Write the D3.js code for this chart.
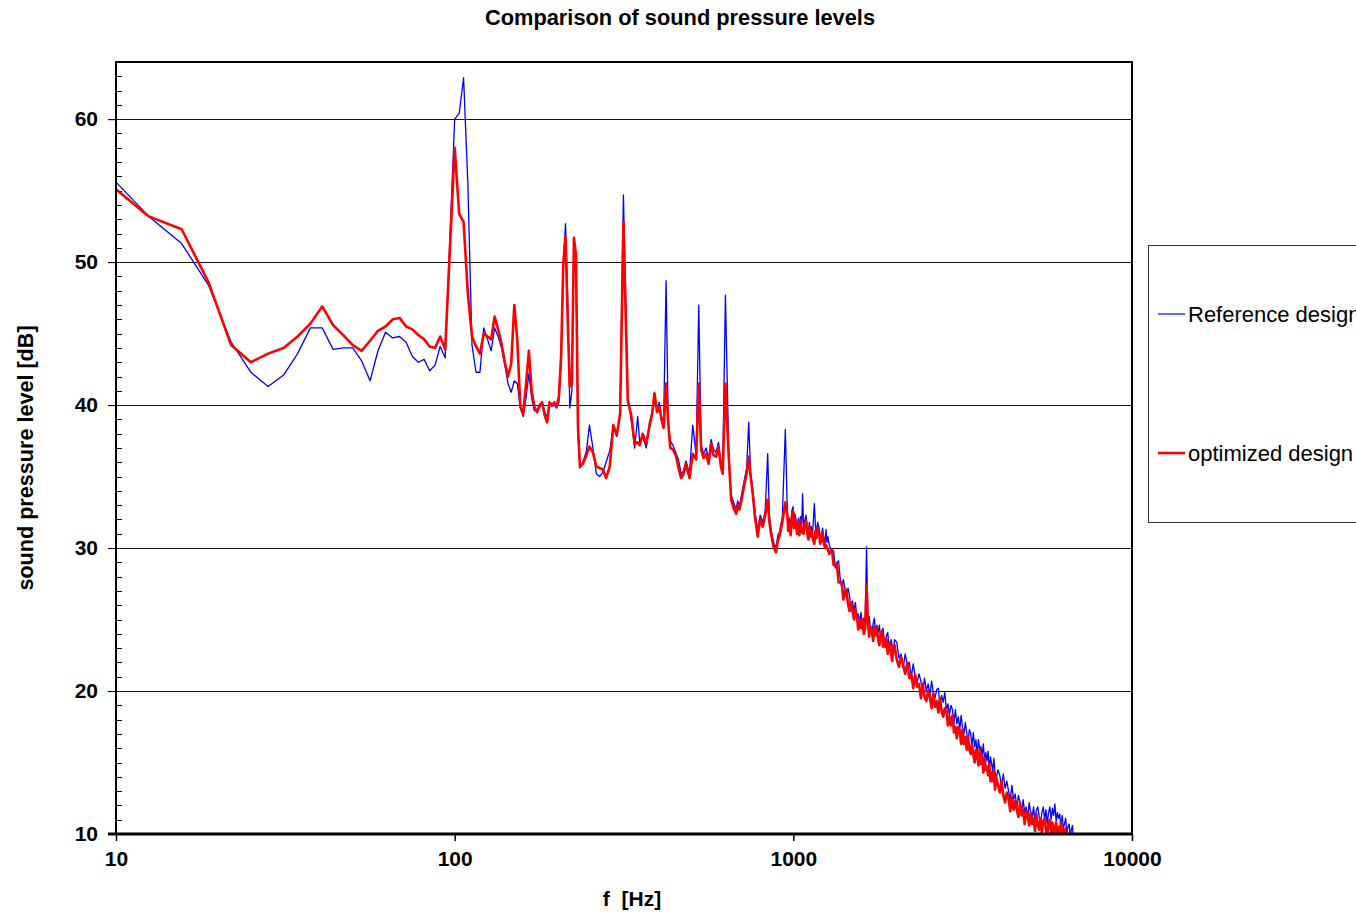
<!DOCTYPE html>
<html>
<head>
<meta charset="utf-8">
<title>Comparison of sound pressure levels</title>
<script src="https://cdn.jsdelivr.net/npm/d3@7"></script>
<style>
  body { margin: 0; background: #fff; }
  svg text { font-family: "Liberation Sans", Arial, sans-serif; fill: #000; }
</style>
</head>
<body>
<div id="chart"></div>
<script>
// frequency grid [Hz]
const freqHz = [
  10, 12.5, 15.625, 18.75, 21.875, 25, 28.125, 31.25, 34.375, 37.5,
  40.625, 43.75, 46.875, 50, 53.125, 56.25, 59.375, 62.5, 65.625, 68.75,
  71.875, 75, 78.125, 81.25, 84.375, 87.5, 90.625, 93.75, 100, 103.125,
  106.25, 109.375, 112.5, 115.625, 118.75, 121.875, 125, 128.125, 131.25, 134.375,
  137.5, 140.625, 143.75, 146.875, 150, 153.125, 156.25, 159.375, 162.5, 165.625,
  168.75, 171.875, 175, 178.125, 181.25, 184.375, 187.5, 190.625, 193.75, 196.875,
  200, 203.125, 206.25, 209.375, 212.5, 215.625, 218.75, 221.875, 225, 228.125,
  231.25, 234.375, 239, 245, 250, 256, 262, 268, 274, 280,
  287, 294, 301, 308, 315, 324.5, 332, 340, 347, 352,
  359, 368, 376, 383, 389, 396, 402, 408, 414, 421,
  427, 433, 441, 451, 458, 466, 474, 482, 493.5, 504.7,
  516.4, 525.7, 534.3, 543, 552.7, 562, 571.8, 581, 591.6, 601,
  612, 618.7, 630.2, 644.5, 655.1, 666, 677.8, 685, 693.2, 705,
  717.2, 728, 738.4, 748, 758.7, 771, 784.9, 798, 812, 826,
  840, 850, 859.6, 874, 889.3, 900, 909.4, 928, 947.1, 960,
  966, 973.2, 982, 990, 998, 1005, 1010, 1018.5, 1026, 1035,
  1042, 1050, 1058, 1065.2, 1072, 1080, 1090, 1100, 1108, 1115,
  1122, 1130, 1140, 1153.5, 1162, 1170, 1180, 1193.4, 1200, 1210,
  1220, 1230, 1240, 1248.9, 1257, 1265, 1277.1,
  1300, 1315, 1330, 1345, 1360, 1375, 1390, 1405, 1420, 1435,
  1450, 1465, 1480, 1495, 1510, 1525, 1540, 1555, 1570, 1585,
  1600, 1615, 1630, 1645, 1660, 1675, 1690, 1705, 1720, 1735,
  1750, 1765, 1780, 1795, 1810, 1825, 1840, 1855, 1870, 1885,
  1900, 1915, 1930, 1945, 1960, 1975, 1990,
  2020, 2050, 2080, 2110, 2140, 2170, 2200, 2230, 2260, 2290,
  2320, 2350, 2380, 2410, 2440, 2470, 2500, 2530, 2560, 2590,
  2620, 2650, 2680, 2710, 2740, 2770, 2800, 2830, 2860, 2890,
  2920, 2950, 2980, 3010, 3040, 3070, 3100, 3130, 3160, 3190,
  3220, 3250, 3280, 3310, 3340, 3370, 3400, 3430, 3460, 3490,
  3520, 3550, 3580, 3610, 3640, 3670, 3700, 3730, 3760, 3790,
  3820, 3850, 3880, 3910, 3940, 3970,
  4020, 4070, 4120, 4170, 4220, 4270, 4320, 4370, 4420, 4470,
  4520, 4570, 4620, 4670, 4720, 4770, 4820, 4870, 4920, 4970,
  5020, 5070, 5120, 5170, 5220, 5270, 5320, 5370, 5420, 5470,
  5520, 5570, 5620, 5670, 5720, 5770, 5820, 5870, 5920, 5970,
  6020, 6070, 6120, 6170, 6220, 6270, 6320, 6370, 6420, 6470,
  6520, 6570, 6620, 6670, 6720
]

// Reference design [dB]
const refDb = [
  55.6, 53.2, 51.3, 48.4, 44.4, 42.3, 41.3, 42.1, 43.6, 45.4,
  45.4, 43.9, 44.0, 44.0, 43.1, 41.7, 43.8, 45.1, 44.7, 44.8,
  44.4, 43.4, 43.0, 43.2, 42.4, 42.8, 44.1, 43.3, 60.0, 60.4,
  62.9, 55.5, 44.2, 42.3, 42.3, 45.4, 44.6, 43.8, 45.4, 44.8,
  44.0, 42.8, 41.5, 40.9, 41.7, 41.5, 39.8, 39.2, 40.5, 42.2,
  40.5, 39.6, 39.7, 39.8, 40.2, 39.5, 39.2, 40.1, 39.9, 40.0,
  39.8, 40.2, 43.0, 50.0, 52.7, 47.5, 39.8, 41.0, 51.5, 50.0,
  38.0, 35.6, 36.0, 36.8, 38.6, 37.0, 35.2, 35.0, 35.3, 36.0,
  36.8, 38.5, 37.8, 39.6, 54.7, 40.6, 39.0, 37.0, 39.2, 37.4,
  37.8, 37.0, 38.8, 39.5, 40.9, 39.7, 40.2, 39.2, 38.8, 48.7,
  39.0, 37.5, 37.2, 36.6, 36.2, 35.2, 35.4, 36.1, 35.2, 38.6,
  36.5, 47.0, 37.2, 36.6, 37.0, 36.2, 37.6, 36.9, 36.7, 37.4,
  35.9, 35.5, 47.7, 36.6, 33.7, 33.2, 32.7, 33.3, 32.9, 33.9,
  34.8, 35.6, 38.8, 35.3, 34.1, 32.5, 31.2, 32.3, 31.8, 32.6,
  36.6, 32.2, 31.3, 30.4, 30.0, 30.9, 31.1, 32.2, 38.3, 32.6,
  31.6, 32.1, 31.3, 32.6, 32.9, 31.8, 32.4, 32.0, 31.3, 32.1,
  31.2, 32.2, 31.6, 33.8, 31.4, 31.9, 32.3, 31.4, 31.0, 31.8,
  31.2, 31.5, 31.0, 33.1, 31.6, 31.1, 31.8, 31.3, 30.6, 30.9,
  31.4, 30.7, 30.3, 31.3, 30.4, 30.8, 30.2,
  29.8, 29.8, 28.6, 29.0, 29.1, 27.9, 27.2, 27.8, 27.2, 26.5,
  27.2, 26.7, 25.6, 26.3, 25.6, 26.2, 25.1, 25.4, 24.8, 25.5,
  24.3, 25.1, 24.8, 30.1, 24.6, 25.2, 24.3, 24.0, 24.7, 25.1,
  24.0, 24.6, 24.1, 24.6, 23.6, 24.1, 24.4, 23.5, 23.1, 23.9,
  24.1, 23.2, 22.8, 23.6, 23.1, 22.7, 23.6,
  23.4, 22.3, 22.6, 21.6, 22.6, 21.8, 22.0, 21.0, 21.9, 21.0,
  20.6, 21.2, 20.7, 19.9, 20.9, 20.0, 20.5, 19.7, 20.7, 19.9,
  19.5, 20.1, 20.2, 19.0, 19.7, 19.2, 19.9, 18.7, 19.1, 18.3,
  19.0, 18.7, 17.7, 18.7, 17.7, 18.2, 17.3, 18.3, 17.4, 17.0,
  17.8, 17.1, 16.4, 17.3, 17.0, 16.1, 17.1, 16.1, 16.6, 15.6,
  16.6, 15.9, 16.1, 15.5, 16.3, 15.1, 15.7, 15.1, 15.8, 14.5,
  15.4, 14.9, 14.4, 15.3, 14.3, 13.9,
  14.5, 14.1, 13.3, 14.2, 13.2, 13.7, 13.0, 12.4, 13.4, 12.4,
  12.8, 11.8, 12.7, 12.2, 11.5, 12.4, 11.5, 11.9, 11.1, 12.2,
  11.5, 11.1, 11.9, 10.9, 11.7, 11.9, 11.2, 10.8, 11.5, 11.9,
  11.0, 11.7, 10.7, 11.5, 11.9, 11.0, 11.8, 11.3, 12.1, 10.9,
  11.5, 11.1, 11.4, 10.3, 11.3, 10.4, 10.7, 11.1, 10.0, 10.5,
  10.7, 9.9, 10.3, 10.6, 9.5
]

// optimized design [dB], null where the trace has ended
const optDb = [
  55.1, 53.2, 52.3, 48.6, 44.2, 43.0, 43.6, 44.0, 44.8, 45.7,
  46.9, 45.6, 44.9, 44.2, 43.8, 44.5, 45.2, 45.5, 46.0, 46.1,
  45.5, 45.3, 44.9, 44.6, 44.1, 44.0, 44.8, 43.9, 58.0, 53.4,
  52.8, 47.8, 44.8, 44.1, 43.6, 45.0, 44.8, 44.6, 46.2, 45.3,
  44.3, 43.0, 42.0, 42.9, 47.0, 44.5, 39.9, 39.4, 41.5, 43.8,
  41.0, 39.9, 39.5, 40.0, 40.2, 39.3, 38.8, 40.2, 40.0, 40.2,
  39.9, 40.6, 43.5, 50.0, 51.8, 46.0, 41.3, 41.5, 51.7, 50.5,
  38.5, 35.7, 35.9, 36.5, 37.1, 36.7, 35.7, 35.6, 35.5, 34.9,
  35.7, 38.6, 37.9, 39.4, 52.8, 40.3, 39.3, 37.3, 37.4, 37.2,
  38.0, 37.3, 38.5, 39.4, 40.8, 39.5, 39.9, 39.0, 38.4, 41.5,
  38.8, 37.0, 36.9, 36.4, 35.6, 34.9, 35.2, 35.9, 34.9, 36.6,
  36.2, 41.5, 36.9, 36.3, 36.6, 35.9, 37.3, 36.5, 36.4, 37.1,
  35.6, 35.2, 41.5, 36.4, 33.4, 32.8, 32.4, 33.0, 32.7, 33.5,
  34.5, 35.2, 36.4, 35.0, 33.8, 32.1, 30.8, 32.0, 31.5, 32.3,
  33.4, 31.8, 31.0, 30.1, 29.7, 30.5, 30.8, 31.8, 33.2, 32.3,
  31.2, 31.8, 30.9, 32.2, 32.6, 31.4, 32.1, 31.7, 31.0, 31.8,
  30.9, 31.9, 31.1, 31.4, 31.0, 31.6, 31.9, 31.0, 30.6, 31.5,
  30.8, 31.2, 30.7, 30.3, 31.2, 30.7, 31.4, 31.0, 30.3, 30.5,
  31.1, 30.4, 30.0, 30.2, 30.0, 29.9, 29.6,
  29.9, 28.8, 28.9, 28.9, 27.6, 27.6, 27.6, 26.4, 27.0, 27.1,
  26.1, 25.6, 26.2, 25.6, 25.0, 25.7, 25.3, 24.3, 25.0, 24.4,
  25.0, 24.0, 24.4, 27.5, 24.8, 23.8, 24.5, 24.3, 23.5, 24.5,
  23.9, 24.4, 23.6, 23.2, 23.9, 24.2, 23.1, 23.7, 23.1, 23.6,
  22.6, 23.1, 23.4, 22.5, 22.1, 23.0, 23.2,
  22.2, 21.7, 22.4, 21.8, 21.2, 22.0, 20.9, 21.2, 20.2, 21.1,
  20.3, 20.5, 19.5, 20.5, 19.6, 19.3, 20.0, 19.6, 18.8, 19.8,
  18.9, 19.3, 18.5, 19.5, 18.6, 18.2, 18.8, 18.8, 17.6, 18.2,
  17.6, 18.3, 17.1, 17.5, 16.7, 17.5, 17.2, 16.3, 17.3, 16.3,
  16.8, 15.9, 16.8, 15.9, 15.6, 16.3, 15.6, 15.0, 15.9, 15.6,
  14.8, 15.9, 14.9, 15.4, 14.3, 15.3, 14.5, 14.7, 14.1, 14.9,
  13.7, 14.3, 13.7, 14.4, 13.1, 14.0,
  13.4, 12.9, 13.7, 12.7, 12.2, 12.9, 12.5, 11.6, 12.6, 11.7,
  12.3, 11.7, 11.2, 12.2, 11.3, 11.7, 10.7, 11.6, 11.3, 10.6,
  11.5, 10.7, 11.1, 10.2, 11.4, 10.6, 10.3, 11.1, 10.1, 10.9,
  11.1, 10.3, 9.9, 10.7, 11.0, 10.1, 10.8, 9.8, 10.4, 10.8,
  9.9, 10.5, 10.0, 10.8, 9.6, 10.3, 10.0, 10.4, 9.4, 9.6,
  null, null, null, null, null
]

const xTickValues = [10, 100, 1000, 10000]
const yTickValues = [10, 20, 30, 40, 50, 60]
const seriesNames = ['Reference design', 'optimized design']
const seriesColors = ['#0000ff', '#ff0000']

const width = 1356, height = 912
const plot = {left: 116, right: 1132, top: 62, bottom: 834}

const svg = d3.select('#chart').append('svg')
  .attr('width', width)
  .attr('height', height)

const x = d3.scaleLog().domain([10, 10000]).range([plot.left, plot.right])
const y = d3.scaleLinear().domain([10, 64]).range([plot.bottom, plot.top])

// title
svg.append('text')
  .attr('x', 680)
  .attr('y', 25)
  .attr('text-anchor', 'middle')
  .style('font-size', '21.8px')
  .style('font-weight', 'bold')
  .text('Comparison of sound pressure levels')

// horizontal grid lines, they poke out left of the frame like ticks
svg.append('g')
  .attr('class', 'grid')
  .selectAll('line')
  .data(yTickValues.filter(d => d > 10))
  .enter().append('line')
  .attr('x1', plot.left - 8)
  .attr('x2', plot.right)
  .attr('y1', d => Math.round(y(d)) + 0.5)
  .attr('y2', d => Math.round(y(d)) + 0.5)
  .attr('stroke', '#111')
  .attr('stroke-width', 1)

// minor y ticks, every 1 dB, inside the frame
svg.append('g')
  .attr('class', 'minor')
  .selectAll('line')
  .data(d3.range(11, 64).filter(d => d % 10 !== 0))
  .enter().append('line')
  .attr('x1', plot.left)
  .attr('x2', plot.left + 6)
  .attr('y1', d => Math.round(y(d)) + 0.5)
  .attr('y2', d => Math.round(y(d)) + 0.5)
  .attr('stroke', '#000')

// y axis labels
const yAxis = svg.append('g')
  .attr('class', 'y-axis')
  .attr('transform', 'translate(' + plot.left + ',0)')
  .call(d3.axisLeft(y).tickValues(yTickValues).tickSize(8).tickPadding(10))
yAxis.select('.domain').remove()
yAxis.selectAll('text')
  .style('font-size', '21px')
  .style('font-weight', 'bold')
  .style('font-family', '"Liberation Sans", Arial, sans-serif')

// x axis labels
const xAxis = svg.append('g')
  .attr('class', 'x-axis')
  .attr('transform', 'translate(0,' + plot.bottom + ')')
  .call(d3.axisBottom(x).tickValues(xTickValues).tickFormat(d3.format('d')).tickSize(7).tickPadding(10))
xAxis.select('.domain').remove()
xAxis.selectAll('line').attr('stroke-width', 1.5)
xAxis.selectAll('text')
  .style('font-size', '21px')
  .style('font-weight', 'bold')
  .style('font-family', '"Liberation Sans", Arial, sans-serif')

// axis titles
svg.append('text')
  .attr('x', 632)
  .attr('y', 906)
  .attr('text-anchor', 'middle')
  .style('font-size', '21px')
  .style('font-weight', 'bold')
  .style('white-space', 'pre')
  .text('f  [Hz]')

svg.append('text')
  .attr('transform', 'translate(33,458) rotate(-90)')
  .attr('text-anchor', 'middle')
  .style('font-size', '21.6px')
  .style('font-weight', 'bold')
  .text('sound pressure level [dB]')

// curves
svg.append('clipPath')
  .attr('id', 'plot-clip')
  .append('rect')
  .attr('x', plot.left)
  .attr('y', plot.top)
  .attr('width', plot.right - plot.left)
  .attr('height', plot.bottom - plot.top)

const line = d3.line()
  .defined(d => d[1] != null)
  .x(d => x(d[0]))
  .y(d => y(d[1]))

const series = [
  {name: seriesNames[0], color: seriesColors[0], width: 1.3, values: refDb},
  {name: seriesNames[1], color: seriesColors[1], width: 2.6, values: optDb}
]

svg.append('g')
  .attr('class', 'curves')
  .attr('clip-path', 'url(#plot-clip)')
  .selectAll('path')
  .data(series)
  .enter().append('path')
  .attr('d', s => line(freqHz.map((f, i) => [f, s.values[i]])))
  .attr('fill', 'none')
  .attr('stroke', s => s.color)
  .attr('stroke-width', s => s.width)
  .attr('stroke-linejoin', 'round')

// frame
svg.append('rect')
  .attr('x', plot.left)
  .attr('y', plot.top)
  .attr('width', plot.right - plot.left)
  .attr('height', plot.bottom - plot.top)
  .attr('fill', 'none')
  .attr('stroke', '#000')
  .attr('stroke-width', 2)
svg.append('line')
  .attr('x1', plot.left - 8)
  .attr('x2', plot.right)
  .attr('y1', plot.bottom)
  .attr('y2', plot.bottom)
  .attr('stroke', '#000')
  .attr('stroke-width', 3)

// legend, cut off by the right edge as in the source
const legend = svg.append('g').attr('class', 'legend')
legend.append('rect')
  .attr('x', 1148.5)
  .attr('y', 245.5)
  .attr('width', 260)
  .attr('height', 277)
  .attr('fill', '#fff')
  .attr('stroke', '#333')
  .attr('stroke-width', 1)

const items = legend.selectAll('.legend-item')
  .data(series)
  .enter().append('g')
  .attr('class', 'legend-item')
  .attr('transform', (d, i) => 'translate(1158,' + (314 + i * 139) + ')')
items.append('line')
  .attr('x1', 0)
  .attr('x2', 27)
  .attr('stroke', d => d.color)
  .attr('stroke-width', (d, i) => i === 0 ? 1.2 : 2.6)
items.append('text')
  .attr('x', 30)
  .attr('y', 8)
  .style('font-size', '22px')
  .text(d => d.name)
</script>
</body>
</html>
